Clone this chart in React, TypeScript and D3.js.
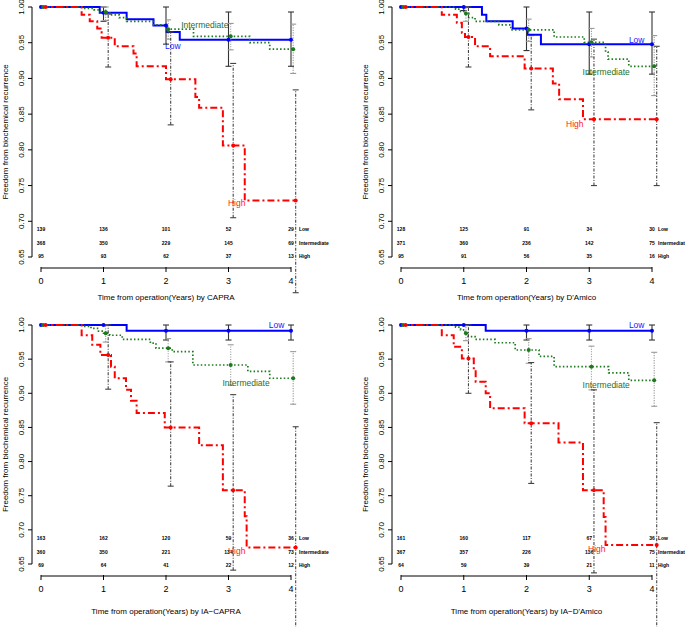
import React from "react";
import * as d3 from "d3";

const YEARS = [0, 1, 2, 3, 4];
const Y_TICKS = [0.65, 0.7, 0.75, 0.8, 0.85, 0.9, 0.95, 1.0];
const GROUP_NAMES = ["Low", "Intermediate", "High"];
const TITLES = [
  "Time from operation(Years) by CAPRA",
  "Time from operation(Years) by D'Amico",
  "Time from operation(Years) by IA\u2212CAPRA",
  "Time from operation(Years) by IA\u2212D'Amico",
];

// ---- CAPRA ----
const capraLow = [[0, 1], [0.94, 0.992], [1.37, 0.983], [1.8, 0.974], [2.01, 0.965], [2.22, 0.954]];
const capraInt = [[0, 1], [0.7, 0.998], [0.85, 0.996], [0.95, 0.993], [1.1, 0.989], [1.25, 0.985], [1.37, 0.98], [1.8, 0.975], [2.02, 0.969], [2.44, 0.959], [3.34, 0.95], [3.66, 0.941]];
const capraHigh = [[0, 1], [0.65, 0.989], [0.78, 0.98], [0.9, 0.97], [0.97, 0.957], [1.18, 0.945], [1.48, 0.935], [1.53, 0.917], [2.0, 0.899], [2.47, 0.874], [2.53, 0.859], [2.91, 0.806], [3.26, 0.729]];
const capraLower = [[0.98, 0.948, 0.917, 0.917], [0.981, 0.955, 0.94, 0.907], [0.916, 0.835, 0.705, 0.6]];
const capraUpper = [[1.0, 1.0, 0.993, 0.993], [1.0, 0.982, 0.977, 0.976], [0.99, 0.965, 0.921, 0.884]];
const capraRisk = [[139, 136, 101, 52, 29], [368, 350, 229, 145, 69], [95, 93, 62, 37, 13]];

// ---- D'Amico ----
const damicoLow = [[0, 1], [1.29, 0.989], [1.36, 0.98], [1.78, 0.97], [2.02, 0.961], [2.23, 0.948]];
const damicoInt = [[0, 1], [0.87, 0.997], [0.95, 0.994], [1.0, 0.991], [1.08, 0.985], [1.18, 0.98], [1.56, 0.975], [1.75, 0.968], [2.44, 0.958], [2.92, 0.9505], [3.26, 0.937], [3.3, 0.927], [3.63, 0.917]];
const damicoHigh = [[0, 1], [0.65, 0.989], [0.89, 0.978], [0.97, 0.964], [1.02, 0.958], [1.18, 0.945], [1.42, 0.931], [1.97, 0.914], [2.42, 0.893], [2.52, 0.871], [2.9, 0.843]];
const damicoLower = [[0.995, 0.939, 0.906, 0.906], [0.98, 0.952, 0.93, 0.876], [0.916, 0.856, 0.75, 0.75]];
const damicoUpper = [[1.0, 1.0, 0.993, 0.993], [1.0, 0.983, 0.97, 0.96], [1.0, 0.96, 0.955, 0.945]];
const damicoRisk = [[128, 125, 91, 34, 30], [371, 360, 236, 142, 75], [95, 91, 56, 35, 16]];

// ---- IA-CAPRA ----
const iaCapraLow = [[0, 1], [1.37, 0.9917]];
const iaCapraInt = [[0, 1], [0.67, 0.998], [0.8, 0.995], [0.92, 0.991], [1.0, 0.988], [1.1, 0.985], [1.3, 0.979], [1.75, 0.9735], [1.84, 0.966], [2.1, 0.961], [2.43, 0.9414], [3.31, 0.932], [3.66, 0.922]];
const iaCapraHigh = [[0, 1], [0.65, 0.985], [0.82, 0.971], [0.95, 0.956], [1.12, 0.939], [1.18, 0.922], [1.36, 0.905], [1.44, 0.889], [1.53, 0.871], [1.98, 0.85], [2.53, 0.824], [2.91, 0.758], [3.26, 0.72], [3.29, 0.674]];
const iaCapraLower = [[1.0, 0.978, 0.978, 0.978], [0.975, 0.946, 0.912, 0.884], [0.906, 0.764, 0.641, 0.55]];
const iaCapraUpper = [[1.0, 1.0, 1.0, 1.0], [1.0, 0.98, 0.971, 0.961], [1.0, 0.946, 0.898, 0.851]];
const iaCapraRisk = [[163, 162, 120, 59, 36], [360, 350, 221, 134, 73], [69, 64, 41, 22, 12]];

// ---- IA-D'Amico ----
const iaDamicoLow = [[0, 1], [1.35, 0.9917]];
const iaDamicoInt = [[0, 1], [0.87, 0.997], [0.95, 0.993], [1.02, 0.988], [1.07, 0.983], [1.18, 0.979], [1.5, 0.974], [1.82, 0.9634], [2.2, 0.954], [2.44, 0.939], [3.31, 0.93], [3.63, 0.919]];
const iaDamicoHigh = [[0, 1], [0.65, 0.985], [0.84, 0.968], [0.97, 0.951], [1.16, 0.934], [1.19, 0.917], [1.35, 0.9], [1.42, 0.878], [1.97, 0.856], [2.51, 0.828], [2.9, 0.758], [3.23, 0.719], [3.26, 0.678]];
const iaDamicoLower = [[1.0, 0.978, 0.978, 0.978], [0.977, 0.944, 0.905, 0.881], [0.9, 0.768, 0.637, 0.55]];
const iaDamicoUpper = [[1.0, 1.0, 1.0, 1.0], [0.999, 0.98, 0.969, 0.96], [1.0, 0.945, 0.905, 0.857]];
const iaDamicoRisk = [[161, 160, 117, 67, 36], [367, 357, 226, 136, 75], [64, 59, 39, 21, 11]];

// group label anchors in data coordinates [time, survival]
const capraLabelAt = [[2.11, 0.941], [2.62, 0.9706], [3.13, 0.721]];
const damicoLabelAt = [[3.756, 0.9496], [3.27, 0.9048], [2.77, 0.832]];
const iaCapraLabelAt = [[3.77, 0.9949], [3.28, 0.91], [3.13, 0.6647]];
const iaDamicoLabelAt = [[3.756, 0.9949], [3.27, 0.9078], [3.12, 0.6676]];

const PANELS = [
  { curves: [capraLow, capraInt, capraHigh], lower: capraLower, upper: capraUpper, risk: capraRisk, labelAt: capraLabelAt },
  { curves: [damicoLow, damicoInt, damicoHigh], lower: damicoLower, upper: damicoUpper, risk: damicoRisk, labelAt: damicoLabelAt },
  { curves: [iaCapraLow, iaCapraInt, iaCapraHigh], lower: iaCapraLower, upper: iaCapraUpper, risk: iaCapraRisk, labelAt: iaCapraLabelAt },
  { curves: [iaDamicoLow, iaDamicoInt, iaDamicoHigh], lower: iaDamicoLower, upper: iaDamicoUpper, risk: iaDamicoRisk, labelAt: iaDamicoLabelAt },
];

// layout (pixels)
const LAYOUT = [
  { x0: 41, x4: 291, yTop: 7, yBot: 257, axisX: 32, axisY: 268, xTitleY: 300, yTitleX: 8, riskY: [231, 245, 258], riskLabelX: 299 },
  { x0: 401, x4: 652, yTop: 7, yBot: 257, axisX: 392, axisY: 268, xTitleY: 300, yTitleX: 368, riskY: [231, 245, 258], riskLabelX: 658 },
  { x0: 41, x4: 291, yTop: 325, yBot: 564, axisX: 32, axisY: 576, xTitleY: 614, yTitleX: 8, riskY: [540, 554, 567], riskLabelX: 299 },
  { x0: 401, x4: 652, yTop: 325, yBot: 564, axisX: 392, axisY: 576, xTitleY: 614, yTitleX: 368, riskY: [540, 554, 567], riskLabelX: 658 },
];

const FONT = "'Liberation Sans', Arial, Helvetica, sans-serif";
const OFFSETS = [0, 0.035, 0.075];
const LINE_COLORS = ["#0000ff", "#1b7a1b", "#ff0000"];
const LABEL_COLORS = ["#2020ff", "#1f6f1f", "#ff2020"];
const LINE_DASH = [undefined, "1.5,2.2", "7,3,2,3"];
const LINE_WIDTH = [2, 1.7, 2];
const CI_COLORS = ["#333333", "#9a9a9a", "#444444"];
const CI_DASH = [undefined, "1.2,1.3", "3,1.5,1,1.5"];

function valueAt(curve: number[][], t: number): number {
  let v = curve[0][1];
  for (const [ct, cs] of curve) {
    if (ct <= t) v = cs;
  }
  return v;
}

function Panel({ idx }: { idx: number }) {
  const cfg = PANELS[idx];
  const lay = LAYOUT[idx];
  const x = d3.scaleLinear().domain([0, 4]).range([lay.x0, lay.x4]);
  const y = d3.scaleLinear().domain([0.65, 1]).range([lay.yBot, lay.yTop]);
  const line = d3
    .line<number[]>()
    .x((d) => x(d[0]))
    .y((d) => y(d[1]))
    .curve(d3.curveStepAfter);
  const cap = 3;

  return (
    <g>
      {/* y axis */}
      <line x1={lay.axisX} x2={lay.axisX} y1={y(0.65)} y2={y(1)} stroke="#000" strokeWidth={1} />
      {Y_TICKS.map((v) => (
        <g key={"yt" + v}>
          <line x1={lay.axisX - 4} x2={lay.axisX} y1={y(v)} y2={y(v)} stroke="#000" strokeWidth={1} />
          <text
            transform={`translate(${lay.axisX - 8},${y(v)}) rotate(-90)`}
            textAnchor="middle"
            fontSize={8}
            fontFamily={FONT}
            fill="#000"
          >
            {v.toFixed(2)}
          </text>
        </g>
      ))}
      <text
        transform={`translate(${lay.yTitleX},${(lay.yTop + lay.yBot) / 2}) rotate(-90)`}
        textAnchor="middle"
        fontSize={8}
        fontFamily={FONT}
        fill="#000"
      >
        Freedom from biochemical recurrence
      </text>

      {/* x axis */}
      <line x1={x(0)} x2={x(4)} y1={lay.axisY} y2={lay.axisY} stroke="#000" strokeWidth={1} />
      {YEARS.map((t) => (
        <g key={"xt" + t}>
          <line x1={x(t)} x2={x(t)} y1={lay.axisY - 1} y2={lay.axisY + 4} stroke="#000" strokeWidth={1} />
          <text x={x(t)} y={lay.axisY + 15.5} textAnchor="middle" fontSize={9} fontFamily={FONT} fill="#000">
            {t}
          </text>
        </g>
      ))}
      <text x={x(2)} y={lay.xTitleY} textAnchor="middle" fontSize={8} fontFamily={FONT} fill="#000">
        {TITLES[idx]}
      </text>

      {/* numbers at risk */}
      {cfg.risk.map((row, g) => (
        <g key={"risk" + g}>
          {row.map((n, k) => (
            <text
              key={k}
              x={x(YEARS[k])}
              y={lay.riskY[g]}
              textAnchor="middle"
              fontSize={5}
              fontWeight="bold"
              fontFamily={FONT}
              fill="#000"
            >
              {n}
            </text>
          ))}
          <text x={lay.riskLabelX} y={lay.riskY[g]} fontSize={5} fontWeight="bold" fontFamily={FONT} fill="#000">
            {GROUP_NAMES[g]}
          </text>
        </g>
      ))}

      {/* curves */}
      {cfg.curves.map((c, g) => {
        const end = 4 + OFFSETS[g];
        const pts = [...c, [end, c[c.length - 1][1]]];
        return (
          <path
            key={"c" + g}
            d={line(pts) || ""}
            fill="none"
            stroke={LINE_COLORS[g]}
            strokeWidth={LINE_WIDTH[g]}
            strokeDasharray={LINE_DASH[g]}
          />
        );
      })}

      {/* confidence bars */}
      {cfg.lower.map((los, g) =>
        los.map((lo, k) => {
          const hi = cfg.upper[g][k];
          const tx = x(YEARS[k + 1] + OFFSETS[g]);
          return (
            <g key={"ci" + g + "-" + k} stroke={CI_COLORS[g]} strokeWidth={1.1} fill="none">
              <line x1={tx} x2={tx} y1={y(lo)} y2={y(hi)} strokeDasharray={CI_DASH[g]} />
              <line x1={tx - cap} x2={tx + cap} y1={y(lo)} y2={y(lo)} />
              <line x1={tx - cap} x2={tx + cap} y1={y(hi)} y2={y(hi)} />
            </g>
          );
        })
      )}

      {/* points */}
      {cfg.curves.map((c, g) =>
        YEARS.map((t) => {
          const tt = t + OFFSETS[g];
          return <circle key={"p" + g + "-" + t} cx={x(tt)} cy={y(valueAt(c, tt))} r={2} fill={LINE_COLORS[g]} />;
        })
      )}

      {/* group labels */}
      {cfg.labelAt.map((p, g) => (
        <text
          key={"lab" + g}
          x={x(p[0])}
          y={y(p[1])}
          textAnchor="middle"
          fontSize={8.5}
          fontFamily={FONT}
          fill={LABEL_COLORS[g]}
        >
          {GROUP_NAMES[g]}
        </text>
      ))}
    </g>
  );
}

export default function App() {
  return (
    <svg
      width={685}
      height={627}
      viewBox="0 0 685 627"
      style={{ position: "absolute", left: 0, top: 0, background: "#fff", display: "block" }}
    >
      <rect x={0} y={0} width={685} height={627} fill="#fff" />
      {PANELS.map((_, i) => (
        <Panel key={i} idx={i} />
      ))}
    </svg>
  );
}
